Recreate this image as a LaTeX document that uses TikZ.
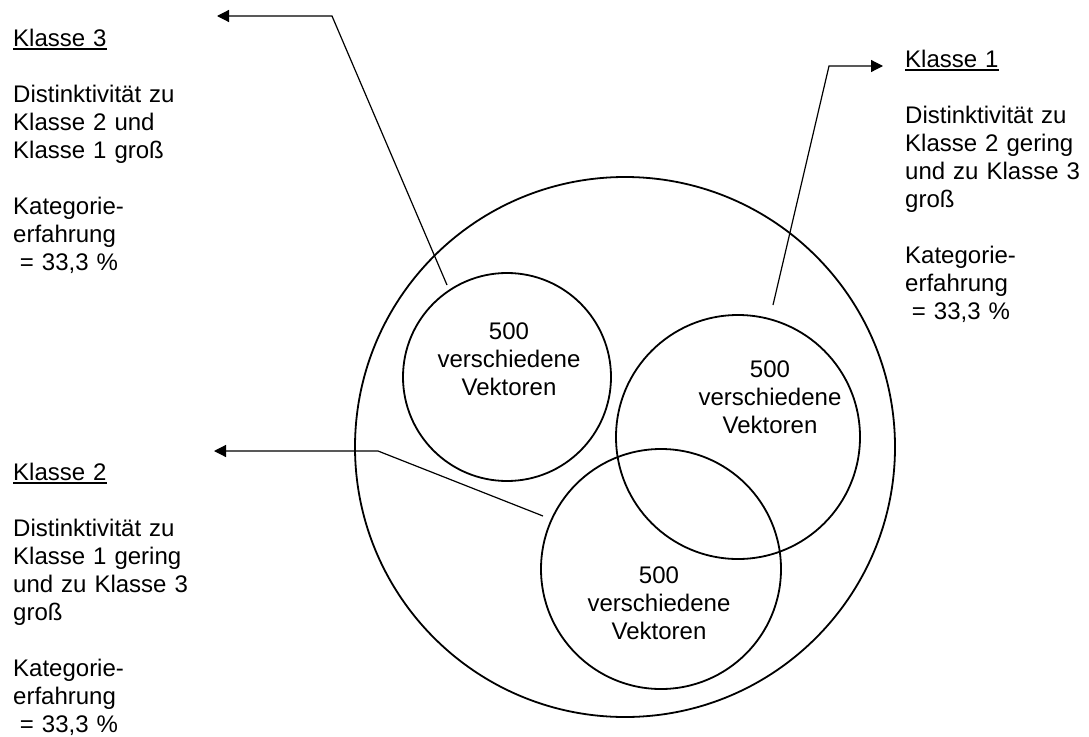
\documentclass[tikz,border=0pt]{standalone}
\usepackage{fontspec}
\setmainfont{Liberation Sans}
\usetikzlibrary{arrows.meta}
\newlength\ulw
\newcommand\myul[1]{\settowidth\ulw{#1}\rlap{#1}\rule[-4pt]{\ulw}{1.6pt}}
\begin{document}
\begin{tikzpicture}[x=1pt,y=-1pt,
  ring/.style={circle,draw,line width=1.8pt,inner sep=0pt},
  lbl/.style={text width=180pt,align=left,anchor=base west,inner sep=0pt,font=\fontsize{24}{28}\selectfont},
  vec/.style={text width=160pt,align=center,anchor=base,inner sep=0pt,font=\fontsize{24}{28}\selectfont},
  conn/.style={line width=1.2pt,-{Triangle[length=12pt,width=12pt]}}]
\useasboundingbox[fill=white] (0,0) rectangle (1089,736);
% circles
\node[ring,minimum size=540pt] (outer) at (625,447) {};
\node[ring,minimum size=208pt] (c3) at (507,377) {};
\node[ring,minimum size=244pt] (c1) at (738,437) {};
\node[ring,minimum size=240pt] (c2) at (661,569) {};
% circle texts
\node[vec] (t3) at (509,339) {500\\verschiedene\\Vektoren};
\node[vec] (t1) at (770,377) {500\\verschiedene\\Vektoren};
\node[vec] (t2) at (659,583) {500\\verschiedene\\Vektoren};
% label blocks
\node[lbl] (k3) at (13,46) {\myul{Klasse 3}\\[28pt]Distinktivität zu\\Klasse 2 und\\Klasse 1 groß\\[28pt]Kategorie-\\erfahrung\\\hspace*{0.28em}= 33,3 \%};
\node[lbl] (k1) at (905,67) {\myul{Klasse 1}\\[28pt]Distinktivität zu\\Klasse 2 gering\\und zu Klasse 3\\groß\\[28pt]Kategorie-\\erfahrung\\\hspace*{0.28em}= 33,3 \%};
\node[lbl] (k2) at (13,480) {\myul{Klasse 2}\\[28pt]Distinktivität zu\\Klasse 1 gering\\und zu Klasse 3\\groß\\[28pt]Kategorie-\\erfahrung\\\hspace*{0.28em}= 33,3 \%};
% connectors
\coordinate (a3s) at (447,285); \coordinate (a3b) at (332,16); \coordinate (a3t) at (217,16);
\coordinate (a1s) at (773,305); \coordinate (a1b) at (829,66); \coordinate (a1t) at (883,66);
\coordinate (a2s) at (543,516); \coordinate (a2b) at (378,451); \coordinate (a2t) at (214,451);
\draw[conn] (a3s) -- (a3b) -- (a3t);
\draw[conn] (a1s) -- (a1b) -- (a1t);
\draw[conn] (a2s) -- (a2b) -- (a2t);
\end{tikzpicture}
\end{document}
